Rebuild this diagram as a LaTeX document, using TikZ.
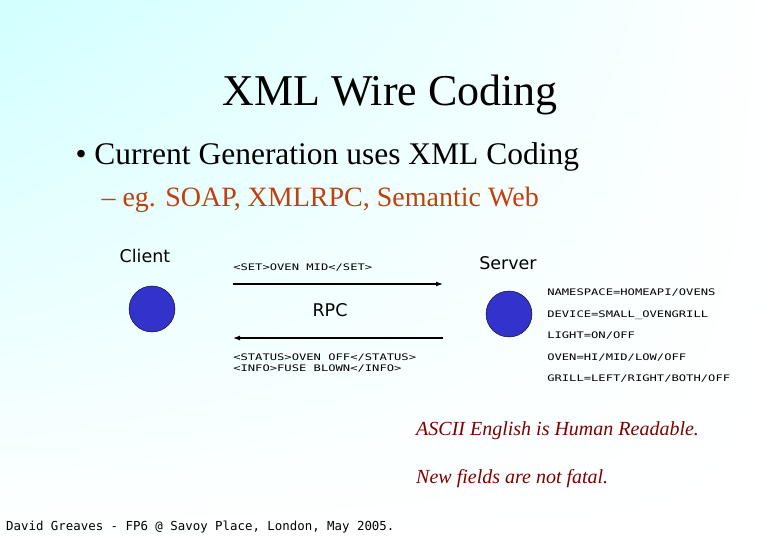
\documentclass[tikz,border=0pt]{standalone}
\usetikzlibrary{shadings,arrows.meta}
\usepackage{fontspec}
\setmainfont{Liberation Serif}
\newfontfamily\hand{DejaVu Sans}
\newfontfamily\monof{DejaVu Sans Mono}
\definecolor{sub}{HTML}{C04010}
\definecolor{ital}{HTML}{800000}
\definecolor{ball}{HTML}{3333CC}
\begin{document}
\begin{tikzpicture}[x=1pt,y=-1pt,
  ball/.style={circle,draw=black,fill=ball,minimum size=46pt,inner sep=0},
  msg/.style={font=\monof\fontsize{9}{11}\selectfont,anchor=west,align=left,inner sep=0,xscale=1.35},
  lbl/.style={font=\hand\fontsize{17.5}{20}\selectfont,inner sep=0},
  arr/.style={-{Latex[length=7pt,width=5pt]},line width=1.2pt}]
\shade[upper left=cyan!18,upper right=white,lower left=white,lower right=white] (0,0) rectangle (780,540);
\useasboundingbox (0,0) rectangle (780,540);
\node[font=\fontsize{44}{48}\selectfont] (title) at (390,95) {XML Wire Coding};
\node[font=\fontsize{31.5}{34}\selectfont,anchor=west] (b1) at (72,157) {\textbullet\ Current Generation uses XML Coding};
\node[font=\fontsize{28}{30}\selectfont,anchor=west,text=sub] (b2) at (98,200) {-- eg. SOAP, XMLRPC, Semantic Web};
\node[lbl] (client) at (145,256) {Client};
\node[lbl] (server) at (508,263) {Server};
\node[ball] (c) at (152,309) {};
\node[ball] (s) at (509,314) {};
\coordinate (t1) at (233,284); \coordinate (t2) at (443,284);
\coordinate (u1) at (443,338); \coordinate (u2) at (233,338);
\draw[arr] (t1) -- (t2);
\draw[arr] (u1) -- (u2);
\node[msg] (set) at (233,268) {<SET>OVEN MID</SET>};
\node[lbl] (rpc) at (330,310) {RPC};
\node[msg] (st) at (233,363) {<STATUS>OVEN OFF</STATUS>\\<INFO>FUSE BLOWN</INFO>};
\node[msg] (n1) at (547,293) {NAMESPACE=HOMEAPI/OVENS};
\node[msg] (n2) at (547,315) {DEVICE=SMALL\_OVENGRILL};
\node[msg] (n3) at (547,336) {LIGHT=ON/OFF};
\node[msg] (n4) at (547,358) {OVEN=HI/MID/LOW/OFF};
\node[msg] (n5) at (547,379) {GRILL=LEFT/RIGHT/BOTH/OFF};
\node[font=\itshape\fontsize{20}{22}\selectfont,text=ital,anchor=west,inner sep=0] (i1) at (416,431) {ASCII English is Human Readable.};
\node[font=\itshape\fontsize{20}{22}\selectfont,text=ital,anchor=west,inner sep=0] (i2) at (416,479) {New fields are not fatal.};
\node[font=\monof\fontsize{12.4}{14}\selectfont,anchor=west,inner sep=0] (foot) at (6,527) {David Greaves - FP6 @ Savoy Place, London, May 2005.};
\end{tikzpicture}
\end{document}
